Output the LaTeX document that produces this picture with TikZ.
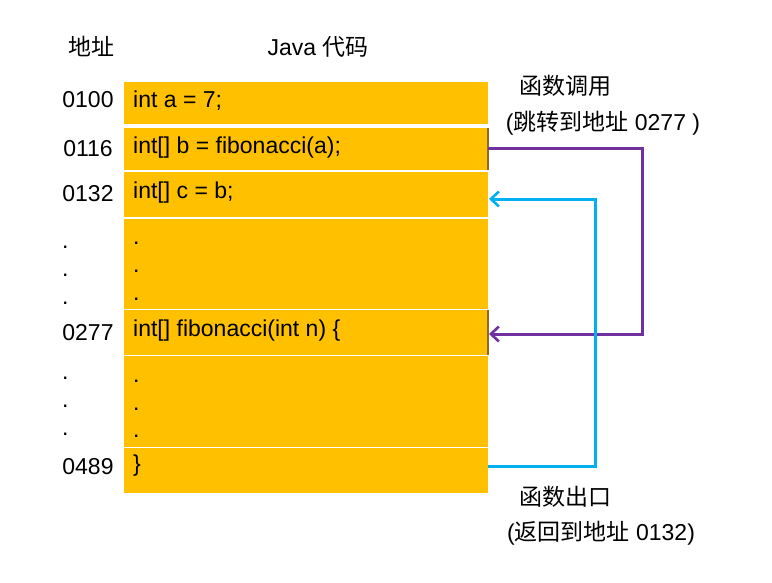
\documentclass[tikz,border=0pt]{standalone}
\usepackage{fontspec}
\setmainfont{Liberation Sans}
\newfontfamily\cjk{Noto Sans CJK SC}
\usetikzlibrary{arrows.meta}
\definecolor{codebg}{HTML}{FFC000}
\definecolor{callc}{HTML}{7030A0}
\definecolor{retc}{HTML}{00B0F0}
\definecolor{edgec}{HTML}{8C6A2A}
\begin{document}
\begin{tikzpicture}[x=1pt,y=-1pt,
  row/.style={fill=codebg,draw=none,minimum width=364pt,inner sep=0pt,outer sep=0pt},
  txt/.style={inner sep=0pt,font=\fontsize{23}{26}\selectfont},
  code/.style={txt,anchor=base west},
  addr/.style={txt,anchor=base},
  callarrow/.style={draw=callc,line width=3pt,-{Straight Barb[length=8pt,width=15pt,line width=2.6pt]}},
  retarrow/.style={draw=retc,line width=3pt,-{Straight Barb[length=8pt,width=15pt,line width=2.6pt]}},
  edgeline/.style={draw=edgec,line width=1.2pt}]
\useasboundingbox (0,0) rectangle (772,582);
% rows
\node[row,minimum height=42pt] (r1) at (306,103) {};
\node[row,minimum height=42pt] (r2) at (306,149) {};
\node[row,minimum height=45pt] (r3) at (306,194.5) {};
\node[row,minimum height=90pt] (r4) at (306,264) {};
\node[row,minimum height=45pt] (r5) at (306,332.5) {};
\node[row,minimum height=91pt] (r6) at (306,401.5) {};
\node[row,minimum height=45pt] (r7) at (306,470.5) {};
\draw[edgeline] (r2.north east) -- (r2.south east);
\draw[edgeline] (r5.north east) -- (r5.south east);
% headers
\node[txt,anchor=base] (hAddr) at (91,55) {\cjk 地址};
\node[txt,anchor=base] (hCode) at (318,55) {Java {\cjk 代码}};
% code
\node[code] (c1) at (133,107.7) {int a = 7;};
\node[code] (c2) at (133,153.3) {int[] b = fibonacci(a);};
\node[code] (c3) at (133,198.3) {int[] c = b;};
\node[code] (c4a) at (133,244.5) {.};
\node[code] (c4b) at (133,272.5) {.};
\node[code] (c4c) at (133,300.5) {.};
\node[code] (c5) at (133,336.5) {int[] fibonacci(int n) \{};
\node[code] (c6a) at (133,382.5) {.};
\node[code] (c6b) at (133,410) {.};
\node[code] (c6c) at (133,437.5) {.};
\node[code] (c7) at (133,471.5) {\}};
% addresses
\node[addr] (a1) at (88,107.7) {0100};
\node[addr] (a2) at (88,156) {0116};
\node[addr] (a3) at (88,201) {0132};
\node[code] (d1) at (62,248.8) {.};
\node[code] (d2) at (62,276.5) {.};
\node[code] (d3) at (62,304) {.};
\node[addr] (a5) at (88,340.7) {0277};
\node[code] (d4) at (62,379) {.};
\node[code] (d5) at (62,407.2) {.};
\node[code] (d6) at (62,435) {.};
\node[addr] (a7) at (88,474.3) {0489};
% labels
\node[txt] (lCall) at (565,86) {\cjk 函数调用};
\node[txt] (lCall2) at (603,123.5) {({\cjk 跳转到地址} 0277 )};
\node[txt] (lRet) at (565,497) {\cjk 函数出口};
\node[txt] (lRet2) at (601,533.5) {({\cjk 返回到地址} 0132)};
% connectors
\coordinate (px) at (642,0);
\coordinate (cx) at (595,0);
\coordinate (s1) at ([yshift=1pt]r2.east);
\coordinate (e1) at ([yshift=-1.5pt,xshift=1pt]r5.east);
\coordinate (s2) at ([yshift=4.5pt]r7.east);
\coordinate (e2) at ([yshift=-4.5pt,xshift=1pt]r3.east);
\draw[callarrow] (s1) -- (s1 -| px) -- (e1 -| px) -- (e1);
\draw[retarrow] (s2) -- (s2 -| cx) -- (e2 -| cx) -- (e2);
\end{tikzpicture}
\end{document}
